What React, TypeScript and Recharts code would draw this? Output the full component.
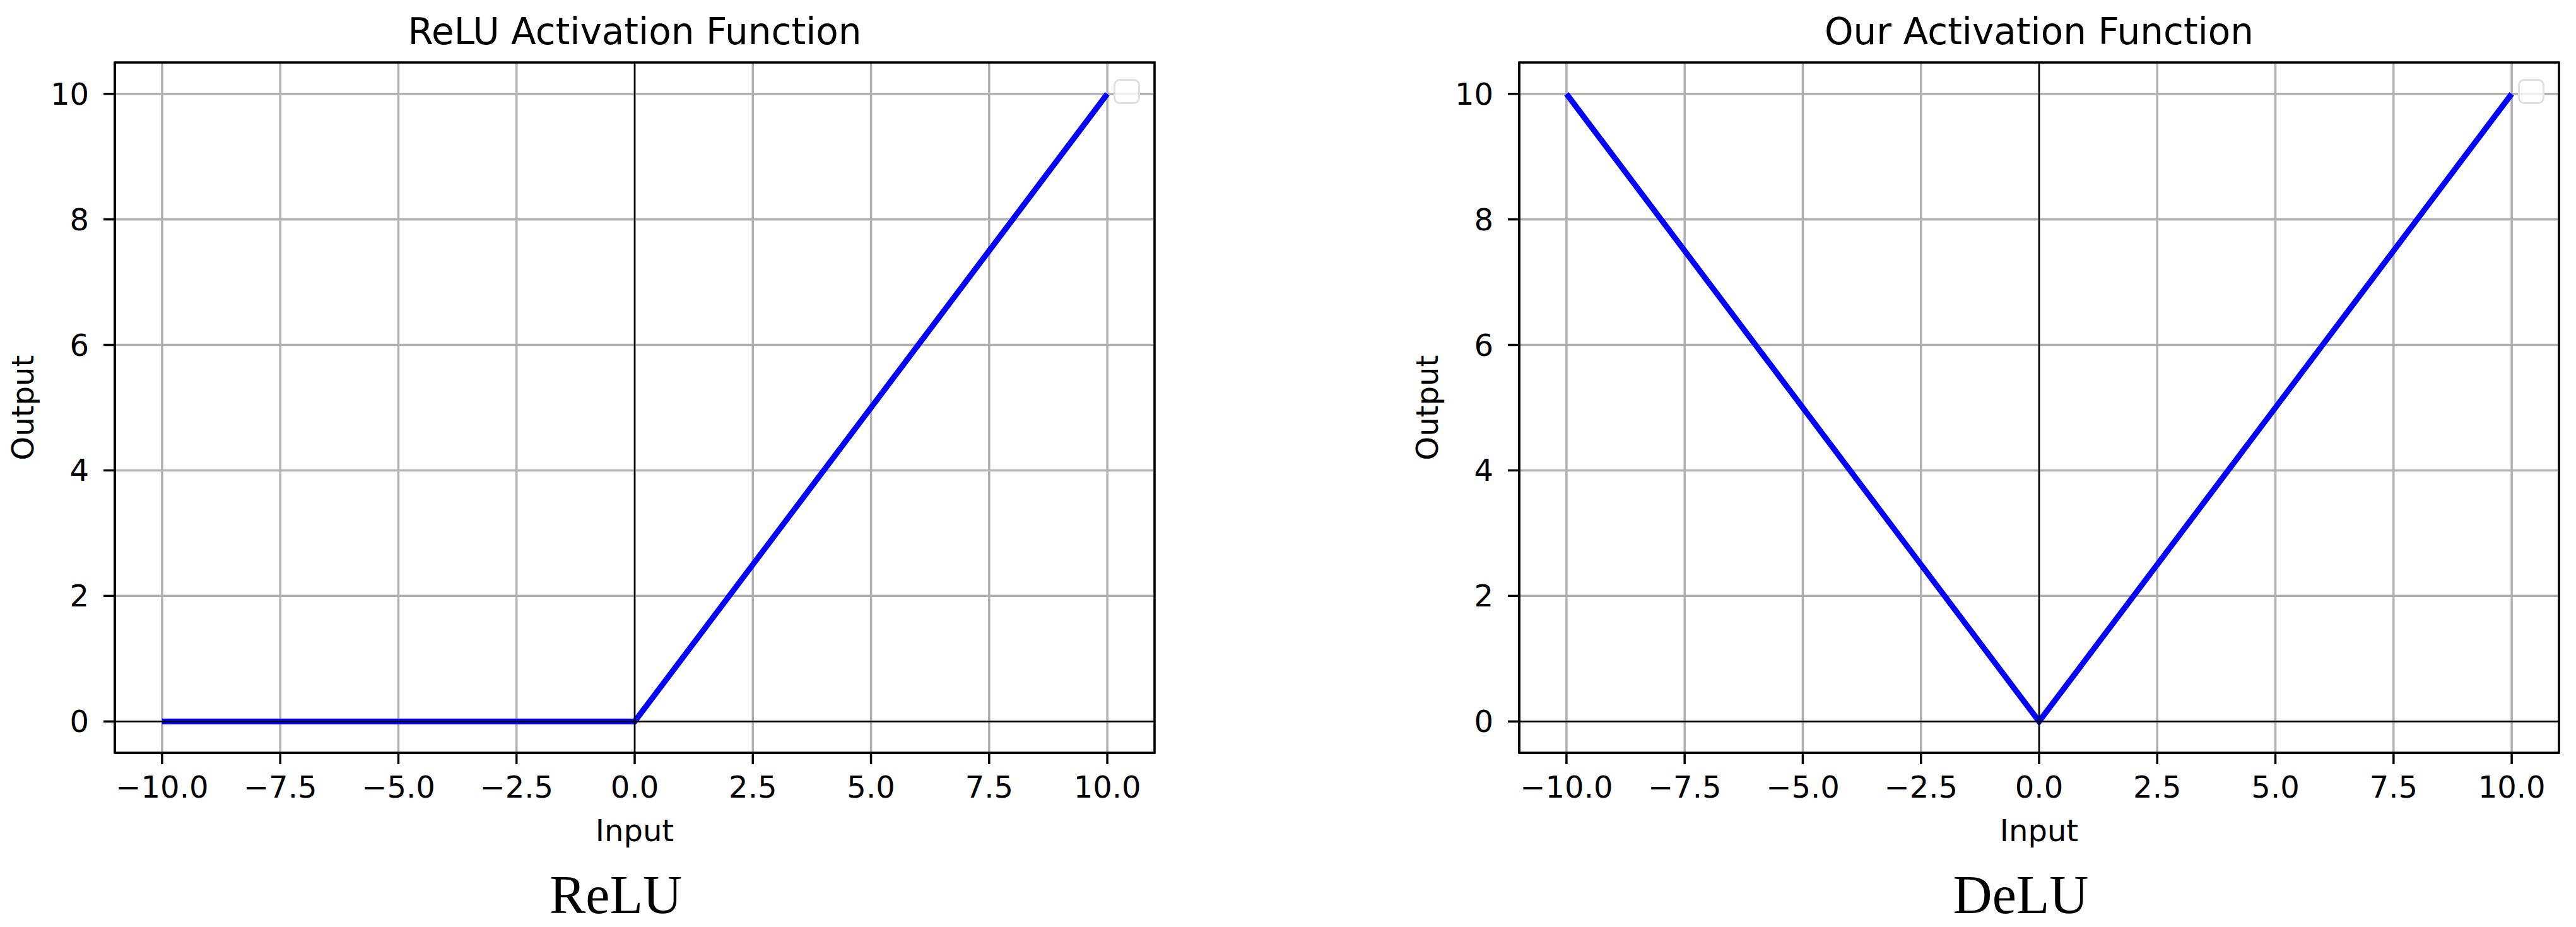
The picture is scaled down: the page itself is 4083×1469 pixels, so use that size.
import React from 'react';
import {
  LineChart,
  Line,
  XAxis,
  YAxis,
  CartesianGrid,
  ReferenceLine,
  ReferenceArea,
} from 'recharts';

// values
const inputs = [-10, 0, 10];
const reluOutput = [0, 0, 10];
const deluOutput = [10, 0, 10];
const xTicks = [-10, -7.5, -5, -2.5, 0, 2.5, 5, 7.5, 10];
const yTicks = [0, 2, 4, 6, 8, 10];
const titles = ['ReLU Activation Function', 'Our Activation Function'];
const captions = ['ReLU', 'DeLU'];

const SANS = '"DejaVu Sans", sans-serif';
const SERIF = '"Liberation Serif", serif';
const H = 1469;

const fmtX = (v: number) => (v < 0 ? '\u2212' : '') + Math.abs(v).toFixed(1);

interface PanelProps {
  left: number;
  width: number;
  plotLeft: number; // relative to panel
  plotRight: number;
  values: number[];
  title: string;
  caption: string;
  captionX: number;
}

function Panel({ left, width, plotLeft, plotRight, values, title, caption, captionX }: PanelProps) {
  const data = inputs.map((x, i) => ({ x, y: values[i] }));
  const plotTop = 99;
  const plotBottom = 1193;
  const yAxisW = 120;
  const xAxisH = 60;
  const center = (plotLeft + plotRight) / 2;

  return (
    <div style={{ position: 'absolute', left, top: 0, width, height: H }}>
      <LineChart
        width={width}
        height={H}
        data={data}
        margin={{
          top: plotTop,
          left: plotLeft - yAxisW,
          right: width - plotRight,
          bottom: H - plotBottom - xAxisH,
        }}
      >
        <CartesianGrid stroke="#b0b0b0" strokeWidth={3.5} />
        <XAxis
          dataKey="x"
          type="number"
          domain={[-11, 11]}
          ticks={xTicks}
          tickFormatter={fmtX}
          height={xAxisH}
          tickSize={18}
          tickMargin={19}
          axisLine={{ stroke: '#000', strokeWidth: 3.5 }}
          tickLine={{ stroke: '#000', strokeWidth: 3.5 }}
          tick={{ fill: '#000', fontSize: 48, fontFamily: SANS }}
        />
        <YAxis
          type="number"
          domain={[-0.5, 10.5]}
          ticks={yTicks}
          width={yAxisW}
          tickSize={18}
          tickMargin={23}
          axisLine={{ stroke: '#000', strokeWidth: 3.5 }}
          tickLine={{ stroke: '#000', strokeWidth: 3.5 }}
          tick={{ fill: '#000', fontSize: 48, fontFamily: SANS }}
        />
        <ReferenceArea
          x1={-11}
          x2={11}
          y1={-0.5}
          y2={10.5}
          fill="none"
          fillOpacity={0}
          stroke="#000"
          strokeWidth={3.5}
        />
        <Line
          type="linear"
          dataKey="y"
          stroke="#0000ff"
          strokeWidth={9}
          dot={false}
          isAnimationActive={false}
        />
        <ReferenceLine y={0} stroke="#000" strokeWidth={2.4} />
        <ReferenceLine x={0} stroke="#000" strokeWidth={2.4} />
      </LineChart>

      {/* empty legend box */}
      <div
        style={{
          position: 'absolute',
          left: plotRight - 65,
          top: 125,
          width: 42,
          height: 40,
          border: '3px solid #e0e0e0',
          borderRadius: 10,
          background: 'rgba(255,255,255,0.8)',
          boxSizing: 'border-box',
        }}
      />

      <div
        style={{
          position: 'absolute',
          left: center - 800,
          width: 1600,
          top: 21,
          textAlign: 'center',
          fontFamily: SANS,
          fontSize: 58,
          lineHeight: '58px',
          color: '#000',
        }}
      >
        {title}
      </div>
      <div
        style={{
          position: 'absolute',
          left: center - 400,
          width: 800,
          top: 1292,
          textAlign: 'center',
          fontFamily: SANS,
          fontSize: 48,
          lineHeight: '48px',
          color: '#000',
        }}
      >
        Input
      </div>
      <div
        style={{
          position: 'absolute',
          left: plotLeft - 182 + 36 - 200,
          width: 400,
          top: (plotTop + plotBottom) / 2 - 24,
          textAlign: 'center',
          fontFamily: SANS,
          fontSize: 48,
          lineHeight: '48px',
          color: '#000',
          transform: 'rotate(-90deg)',
        }}
      >
        Output
      </div>
      <div
        style={{
          position: 'absolute',
          left: captionX - 400,
          width: 800,
          top: 1375,
          textAlign: 'center',
          fontFamily: SERIF,
          fontSize: 86,
          lineHeight: '86px',
          color: '#000',
        }}
      >
        {caption}
      </div>
    </div>
  );
}

export default function App() {
  return (
    <div
      style={{
        position: 'absolute',
        left: 0,
        top: 0,
        width: 4083,
        height: H,
        background: '#fff',
      }}
    >
      <Panel
        left={0}
        width={2040}
        plotLeft={182}
        plotRight={1830}
        values={reluOutput}
        title={titles[0]}
        caption={captions[0]}
        captionX={976}
      />
      <Panel
        left={2042}
        width={2041}
        plotLeft={366}
        plotRight={2014}
        values={deluOutput}
        title={titles[1]}
        caption={captions[1]}
        captionX={3203 - 2042}
      />
    </div>
  );
}
